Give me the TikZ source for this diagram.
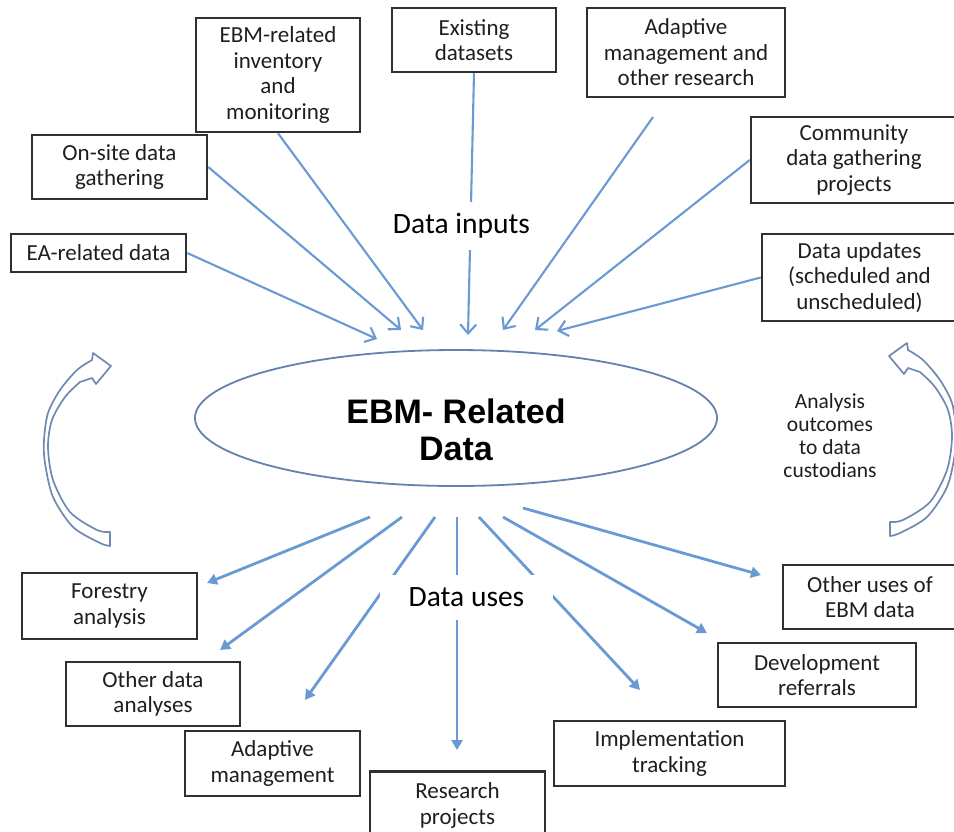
\documentclass[tikz,border=0pt]{standalone}
\usepackage{fontspec}
\setmainfont{Carlito}
\newfontfamily\corefont{Liberation Sans}
\usetikzlibrary{arrows.meta,shapes.geometric}

\definecolor{flow}{HTML}{6A9AD4}
\definecolor{boxline}{HTML}{303030}
\definecolor{textgray}{HTML}{1E1E1E}
\definecolor{ellcol}{HTML}{6482AC}
\definecolor{curlcol}{HTML}{6E8AB2}

\begin{document}
\begin{tikzpicture}[x=1pt,y=-1pt,
  box/.style={draw=boxline, line width=2.5pt, align=center, inner sep=0pt,
    text=textgray, font=\fontsize{23}{25.5}\selectfont},
  inflow/.style={draw=flow, line width=2.1pt,
    -{Straight Barb[length=9pt,width=16pt]}},
  outflow/.style={draw=flow, line width=2.8pt,
    -{Triangle[length=10pt,width=11pt]}},
  tag/.style={fill=white, inner sep=0pt, text=black,
    font=\fontsize{29.5}{32}\selectfont},
  curl/.style={draw=curlcol, line width=1.7pt, fill=white, line join=round}
]
\useasboundingbox (0,0) rectangle (954,831);

% central data store
\node[draw=ellcol, line width=1.8pt, ellipse, minimum width=522pt,
  minimum height=136pt, inner sep=0pt] (core) at (456,418) {};
\node[align=center, font=\corefont\bfseries\fontsize{34}{37}\selectfont]
  (coretext) at (456,430) {EBM- Related\\Data};

% input sources
\node[box, minimum width=175pt, minimum height=38pt] (ea) at (98.5,253) {EA-related data};
\node[box, minimum width=175pt, minimum height=64pt] (onsite) at (119.5,167) {On-site data\\gathering};
\node[box, minimum width=164pt, minimum height=114pt] (inv) at (278,75) {EBM-related\\inventory\\and\\monitoring};
\node[box, minimum width=164pt, minimum height=64pt] (exist) at (474,40) {Existing\\datasets};
\node[box, minimum width=198pt, minimum height=89pt] (adapt) at (686,52.5) {Adaptive\\management and\\other research};
\node[box, minimum width=206pt, minimum height=86pt] (comm) at (854,160) {Community\\data gathering\\projects};
\node[box, minimum width=195pt, minimum height=87pt] (upd) at (859.5,277.5) {Data updates\\(scheduled and\\unscheduled)};

% uses
\node[box, minimum width=175pt, minimum height=66pt] (forestry) at (109.5,606) {Forestry\\analysis};
\node[box, minimum width=174pt, minimum height=64pt] (otherdata) at (153,694) {Other data\\analyses};
\node[box, minimum width=175pt, minimum height=65pt] (adaptm) at (272.5,763.5) {Adaptive\\management};
\node[box, minimum width=175pt, minimum height=68pt, anchor=north] (research) at (457.5,770) {Research\\projects};
\node[box, minimum width=231pt, minimum height=65pt] (impl) at (669.5,753.5) {Implementation\\tracking};
\node[box, minimum width=198pt, minimum height=64pt] (devel) at (817,675) {Development\\referrals};
\node[box, minimum width=174pt, minimum height=64pt] (otheruses) at (870,597) {Other uses of\\EBM data};

% arrow ends around the ellipse
\coordinate (inA) at (377,339);
\coordinate (inB) at (401,330);
\coordinate (inC) at (423,330);
\coordinate (inD) at (468,335);
\coordinate (inE) at (503,330);
\coordinate (inF) at (535,330);
\coordinate (inG) at (557,331);
\coordinate (adaptfoot) at (653,117);

\coordinate (outA) at (370,517);
\coordinate (outB) at (402,517);
\coordinate (outC) at (435,517);
\coordinate (outD) at (457,517);
\coordinate (outE) at (479,517);
\coordinate (outF) at (503,517);
\coordinate (outG) at (523,508);

\coordinate (tipA) at (207,583);
\coordinate (tipB) at (220,650);
\coordinate (tipC) at (305,700);
\coordinate (tipD) at (457,750);
\coordinate (tipE) at (640,690);
\coordinate (tipF) at (707,633);
\coordinate (tipG) at (761,575);

% data inputs
\draw[inflow] (ea.east) -- (inA);
\draw[inflow] (onsite.east) -- (inB);
\draw[inflow] (inv.south) -- (inC);
\draw[inflow] (exist.south) -- (inD);
\draw[inflow] (adaptfoot) -- (inE);
\draw[inflow] (comm.west) -- (inF);
\draw[inflow] (upd.west) -- (inG);

% data uses
\draw[outflow] (outA) -- (tipA);
\draw[outflow] (outB) -- (tipB);
\draw[outflow] (outC) -- (tipC);
\draw[outflow] (outD) -- (tipD);
\draw[outflow] (outE) -- (tipE);
\draw[outflow] (outF) -- (tipF);
\draw[outflow] (outG) -- (tipG);

% section labels
\node[tag, minimum width=183pt, minimum height=48pt] (inlabel) at (461.5,226) {Data inputs};
\node[tag, minimum width=173pt, minimum height=45pt] (uselabel) at (466.5,597.5) {Data uses};

\node[align=center, text=textgray, font=\fontsize{21.5}{23}\selectfont]
  (feedback) at (830,436) {Analysis\\outcomes\\to data\\custodians};

% curved feedback arrows
\path[curl] plot[smooth] coordinates {(110,546) (100,543) (73,527) (53,497) (45,463) (44,440) (48,413) (60,390) (77,370) (92,360)}
  -- (93,353) -- (111,366) -- (96,384) -- (92,378)
  -- plot[smooth] coordinates {(80,382) (65,397) (52,420) (48,447) (53,480) (70,512) (97,530) (110,532)} -- cycle;
\begin{scope}[shift={(1000,-10)}, xscale=-1]
\path[curl] plot[smooth] coordinates {(110,546) (100,543) (73,527) (53,497) (45,463) (44,440) (48,413) (60,390) (77,370) (92,360)}
  -- (93,353) -- (111,366) -- (96,384) -- (92,378)
  -- plot[smooth] coordinates {(80,382) (65,397) (52,420) (48,447) (53,480) (70,512) (97,530) (110,532)} -- cycle;
\end{scope}
\end{tikzpicture}
\end{document}
